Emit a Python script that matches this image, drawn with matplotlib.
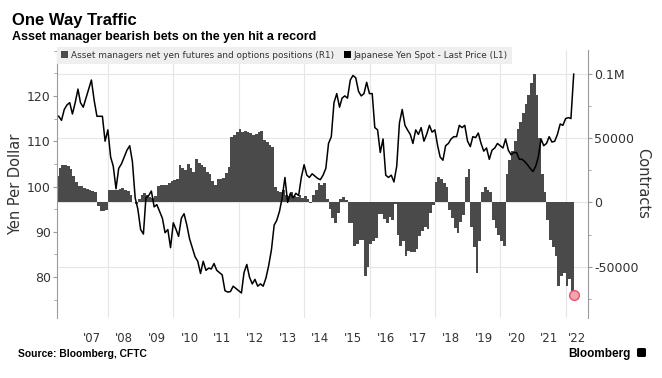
import matplotlib
matplotlib.use("Agg")
import matplotlib.pyplot as plt
from matplotlib.patches import Patch, FancyBboxPatch
import pandas as pd
import numpy as np

# ---------------- data (month-end readings) ----------------
start_month = "2006-06-30"
end_month = "2022-03-31"

yen_spot = [
    # 2006 Jun-Dec
    115.5, 114.6, 117.0, 118.0, 118.5, 116.0, 118.5,
    # 2007
    121.5, 118.5, 117.5, 119.5, 121.5, 123.5, 119.0, 115.5, 115.5, 115.5, 110.0, 112.5,
    # 2008
    106.5, 104.5, 99.5, 104.0, 105.0, 106.5, 108.0, 109.0, 105.5, 97.5, 95.0, 90.5,
    # 2009
    89.5, 97.5, 98.0, 99.0, 95.5, 96.0, 94.5, 93.0, 89.8, 90.5, 86.5, 92.0,
    # 2010
    90.5, 89.0, 93.0, 94.0, 91.5, 88.5, 86.5, 84.5, 83.5, 80.8, 83.5, 81.5,
    # 2011
    82.0, 81.8, 83.0, 81.5, 81.0, 80.5, 77.0, 76.7, 76.8, 78.0, 77.5, 77.0,
    # 2012
    76.5, 81.0, 82.8, 80.0, 78.5, 79.5, 78.0, 78.5, 78.0, 79.8, 82.5, 86.0,
    # 2013
    91.5, 92.5, 94.5, 97.5, 102.0, 96.5, 98.5, 97.5, 98.5, 98.0, 102.0, 104.8,
    # 2014
    102.5, 102.0, 102.8, 102.3, 101.8, 101.5, 102.5, 104.0, 109.5, 111.0, 118.5, 120.5,
    # 2015
    117.5, 119.5, 120.0, 119.5, 123.5, 124.5, 124.0, 121.0, 120.0, 120.5, 123.0, 120.5,
    # 2016
    120.5, 113.0, 112.5, 107.5, 110.5, 102.5, 102.0, 102.5, 101.0, 104.5, 114.0, 117.0,
    # 2017
    113.5, 112.5, 111.5, 109.5, 112.5, 111.5, 113.0, 110.0, 111.5, 113.5, 112.0, 112.5,
    # 2018
    109.0, 106.5, 105.8, 109.0, 109.5, 110.5, 111.0, 111.0, 113.5, 113.0, 113.5, 110.0,
    # 2019
    108.8, 111.0, 110.8, 111.8, 109.5, 107.8, 108.5, 106.0, 108.0, 108.5, 109.5, 109.0,
    # 2020
    108.5, 110.5, 108.0, 107.0, 107.5, 107.5, 106.0, 106.0, 105.5, 104.8, 104.0, 103.3,
    # 2021
    104.5, 106.5, 110.5, 109.0, 109.5, 111.0, 109.8, 110.0, 111.5, 113.8, 113.5, 115.0,
    # 2022 Jan-Mar
    115.2, 115.0, 124.8,
]

net_positions = [
    # 2006 Jun-Dec
    21000, 27000, 29000, 29000, 28500, 26000, 21000,
    # 2007
    16000, 13000, 12500, 11500, 10500, 9700, 9000, 8400, -2500, -6500, -7000, -5500,
    # 2008
    9700, 9500, 10000, 9500, 10500, 11000, 10000, 9000, 5800, 500, -1000, 3000,
    # 2009
    6000, 7000, 5500, 4000, 3500, 5000, 13000, 14000, 13500, 14000, 15000, 17000,
    # 2010
    17500, 18000, 29000, 27000, 25000, 30000, 27000, 24000, 34000, 31000, 29000, 28000,
    # 2011
    24000, 22000, 17000, 13500, 18000, 18500, 19000, 22600, 28000, 51000, 52300, 55000,
    # 2012
    57500, 55000, 56000, 55000, 54000, 52300, 53000, 55000, 56000, 49000, 47000, 44500,
    # 2013
    43000, 12000, 9000, 8000, 10000, 6000, 5000, 8000, 5000, 4000, 6000, 3500,
    # 2014
    5000, 3000, -700, 6000, 9700, 15000, 14000, 15000, 3000, -5000, -12000, -16000,
    # 2015
    -8000, 3000, 4500, 2000, -16000, -16000, -34000, -32000, -29000, -29000, -57500, -50000,
    # 2016
    -32000, -30000, -28000, -9000, -9000, -13000, -16000, -11000, -14000, -1000, -25000, -34000,
    # 2017
    -30000, -42000, -38000, -39000, -39000, -36000, -26000, -22000, -19000, -21000, -8000, -2000,
    # 2018
    16000, 20000, 18000, 15000, 12000, -6000, -12000, -20000, -24000, -15000, -10000, 20000,
    # 2019
    26000, -19000, -35000, -55000, -30000, 8000, 12000, 10000, 8000, -14000, -20000, -25000,
    # 2020
    -30000, -34000, 22000, 33000, 40000, 48000, 57000, 63000, 70000, 77000, 84000, 93000,
    # 2021
    100000, 84000, 50000, 22000, 8000, -14000, -29000, -35000, -42000, -65000, -57000, -55000,
    # 2022 Jan-Mar
    -65000, -60000, -72000,
]

year_labels = ["'07", "'08", "'09", "'10", "'11", "'12", "'13", "'14",
               "'15", "'16", "'17", "'18", "'19", "'20", "'21", "'22"]
left_ticks = [80, 90, 100, 110, 120]
right_ticks = [-50000, 0, 50000, 100000]
right_tick_labels = ["-50000", "0", "50000", "0.1M"]

title = "One Way Traffic"
subtitle = "Asset manager bearish bets on the yen hit a record"
source = "Source: Bloomberg, CFTC"
legend_bars = "Asset managers net yen futures and options positions (R1)"
legend_line = "Japanese Yen Spot - Last Price (L1)"

# ---------------- figure ----------------
dates = pd.date_range(start_month, end_month, freq="ME")

TXT = "#333333"
BAR = "#4a4a4a"
GRID = "#e6e6e6"
SPINE = "#9a9a9a"
HEAD = ["Liberation Sans", "DejaVu Sans"]

fig = plt.figure(figsize=(6.62, 3.78), dpi=100)
ax = fig.add_axes([0.086, 0.159, 0.802, 0.709])
ax2 = ax.twinx()
ax.set_zorder(2)
ax2.set_zorder(1)
ax.patch.set_visible(False)
ax2.patch.set_visible(True)
ax2.patch.set_facecolor("white")

# bars (right axis)
ax2.bar(dates, net_positions, width=-31, align="edge", color=BAR,
        edgecolor="none", linewidth=0, zorder=3)
ax2.plot(dates[-1:], net_positions[-1:], "o", ms=7, mfc="#f5a3b0",
         mec="#e4566c", mew=1.0, zorder=5)

# line (left axis)
ax.plot(dates, yen_spot, color="black", lw=1.1, zorder=4)

x0 = pd.Timestamp("2006-06-10")
x1 = pd.Timestamp("2022-09-05")
ax.set_xlim(x0, x1)
ax.set_ylim(71.0, 130.15)
ax2.set_ylim(-90000, 118950)

# gridlines
ax2.set_yticks(right_ticks)
ax2.set_yticklabels(right_tick_labels)
ax2.set_yticks([-75000, -25000, 25000, 75000], minor=True)
ax2.grid(axis="y", which="major", color=GRID, lw=0.8, zorder=0)
for yr in range(2008, 2023, 2):
    ax2.axvline(pd.Timestamp(f"{yr}-01-01"), color=GRID, lw=0.8, zorder=0)

# x labels at mid-year
label_pos = [pd.Timestamp(f"{y}-07-01") for y in range(2007, 2022)]
label_pos.append(pd.Timestamp("2022-01-01") + (x1 - pd.Timestamp("2022-01-01")) / 2)
ax.set_xticks(label_pos)
ax.set_xticklabels(year_labels)
ax.tick_params(axis="x", which="both", length=0, labelsize=8.5,
               colors=TXT, pad=10)

# left y axis
ax.set_yticks(left_ticks)
ax.set_yticks(np.arange(75, 131, 5), minor=True)
ax.tick_params(axis="y", which="major", direction="out", length=3,
               width=0.8, color=SPINE, labelsize=9, labelcolor=TXT, pad=1.5)
ax.tick_params(axis="y", which="minor", direction="out", length=2,
               width=0.6, color=SPINE)
ax.set_ylabel("Yen Per Dollar", fontsize=10.5, color=TXT, labelpad=3)

# right y axis
ax2.tick_params(axis="y", which="major", direction="out", length=3,
                width=0.8, color=SPINE, labelsize=9, labelcolor=TXT, pad=1.5)
ax2.tick_params(axis="y", which="minor", direction="out", length=2,
                width=0.6, color=SPINE)
ax2.set_ylabel("Contracts", fontsize=10.5, color=TXT, rotation=270,
               labelpad=8)

for a in (ax, ax2):
    a.spines["top"].set_visible(False)
    a.spines["bottom"].set_visible(False)
ax.spines["right"].set_visible(False)
ax2.spines["left"].set_visible(False)
ax.spines["left"].set_color(SPINE)
ax.spines["left"].set_linewidth(0.8)
ax2.spines["right"].set_color(SPINE)
ax2.spines["right"].set_linewidth(0.8)

# legend
handles = [Patch(facecolor=BAR, edgecolor="none"),
           Patch(facecolor="black", edgecolor="none")]
leg = ax.legend(handles, [legend_bars, legend_line], loc="upper left",
                bbox_to_anchor=(0.0, 1.012), ncol=2, fontsize=6.4,
                frameon=True, fancybox=False, facecolor="#efefef",
                edgecolor="none", framealpha=1, handlelength=0.8,
                handleheight=0.8, handletextpad=0.3, columnspacing=1.1,
                borderaxespad=0, borderpad=0.45)
for t in leg.get_texts():
    t.set_color(TXT)

# titles & footer
fig.text(12 / 662, 1 - 25 / 378, title, fontsize=12, fontweight="bold",
         family=HEAD, color="black", va="baseline", ha="left")
fig.text(12 / 662, 1 - 40 / 378, subtitle, fontsize=9, fontweight="bold",
         family=HEAD, color="black", va="baseline", ha="left")
fig.text(18 / 662, 1 - 357 / 378, source, fontsize=7.4, fontweight="bold",
         family=HEAD, color="black", va="baseline", ha="left")
fig.text(631 / 662, 1 - 357 / 378, "Bloomberg", fontsize=8.5,
         fontweight="bold", family=HEAD, color="black", va="baseline",
         ha="right")
fig.patches.append(FancyBboxPatch((637 / 662, 1 - 357 / 378), 9 / 662, 9 / 378,
                                  boxstyle="round,pad=0,rounding_size=0.003",
                                  transform=fig.transFigure, facecolor="black",
                                  edgecolor="none"))

fig.savefig("out.png", dpi=100, facecolor="white")
